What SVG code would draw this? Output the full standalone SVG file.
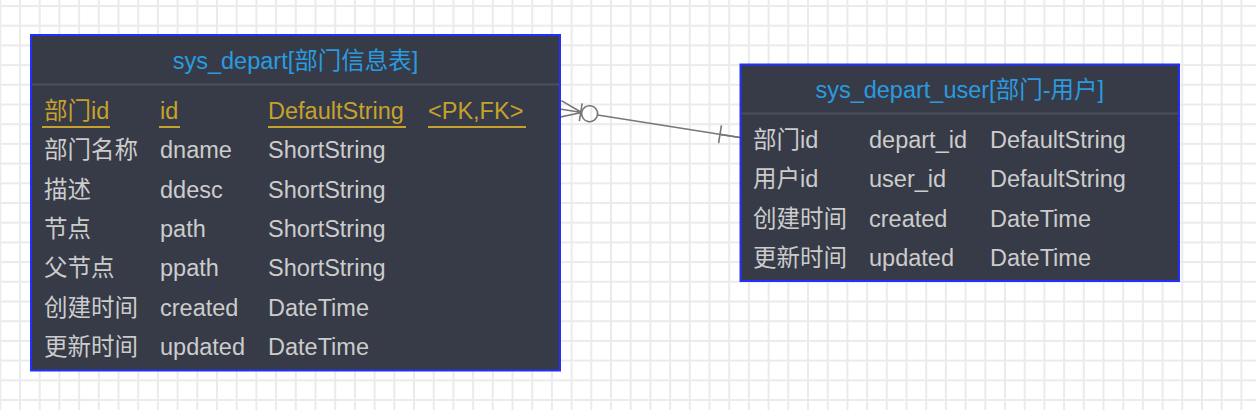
<svg xmlns="http://www.w3.org/2000/svg" width="1256" height="410" viewBox="0 0 1256 410">
<style>
  .box{fill:#363b47;stroke:#2230ff;stroke-width:2}
  .sep{stroke:#4b505b;stroke-width:2}
  .title{font-family:"Liberation Sans","Noto Sans CJK SC",sans-serif;font-size:23.5px;fill:#2a9be0;text-anchor:middle}
  .t{font-family:"Liberation Sans","Noto Sans CJK SC",sans-serif;font-size:23.5px;fill:#cccccc}
  .pk{fill:#c6a22c}
  .ul{stroke:#c6a22c;stroke-width:2}
  .conn{fill:none;stroke:#777;stroke-width:1.6}
</style>
<defs>
  <pattern id="grid" patternUnits="userSpaceOnUse" x="-9.55" y="-3.85" width="19.7" height="19.7">
    <path d="M9.85 0V19.7M0 9.85H19.7" stroke="#ebebeb" stroke-width="2" fill="none"/>
  </pattern>
</defs>
<rect width="1256" height="410" fill="#fff"/>
<rect width="1256" height="410" fill="url(#grid)"/>

<g id="connectors">
  <g transform="translate(560,109) rotate(9)">
    <path class="conn" d="M0,-8.5L22,0M0,0L22,0M0,8.5L22,0M21,-9V9"/>
    <circle class="conn" cx="30" cy="0" r="8"/>
    <path class="conn" d="M38,0H182.2M162,-9V9"/>
    <path class="conn" stroke-width="2.4" d="M162,0H182.2"/>
  </g>
</g>

<g id="sys_depart">
  <rect class="box" x="31" y="35" width="529" height="335.5"/>
  <line class="sep" x1="32" y1="84.5" x2="559" y2="84.5"/>
  <text class="title" x="295.5" y="69">sys_depart[部门信息表]</text>
  <g class="t pk">
    <text x="44" y="119">部门id</text>
    <text x="160" y="119">id</text>
    <text x="268" y="119">DefaultString</text>
    <text x="428" y="119">&lt;PK,FK&gt;</text>
  </g>
  <path class="ul" d="M42,127H110M159,127H180M268,127H406M428,127H526"/>
  <g class="t">
    <text x="44" y="158.3">部门名称</text><text x="160" y="158.3">dname</text><text x="268" y="158.3">ShortString</text>
    <text x="44" y="197.7">描述</text><text x="160" y="197.7">ddesc</text><text x="268" y="197.7">ShortString</text>
    <text x="44" y="237">节点</text><text x="160" y="237">path</text><text x="268" y="237">ShortString</text>
    <text x="44" y="276.3">父节点</text><text x="160" y="276.3">ppath</text><text x="268" y="276.3">ShortString</text>
    <text x="44" y="315.6">创建时间</text><text x="160" y="315.6">created</text><text x="268" y="315.6">DateTime</text>
    <text x="44" y="355">更新时间</text><text x="160" y="355">updated</text><text x="268" y="355">DateTime</text>
  </g>
</g>

<g id="sys_depart_user">
  <rect class="box" x="740.5" y="64.5" width="438.5" height="216.5"/>
  <line class="sep" x1="741.5" y1="113.5" x2="1178" y2="113.5"/>
  <text class="title" x="959.7" y="98">sys_depart_user[部门-用户]</text>
  <g class="t">
    <text x="753" y="148">部门id</text><text x="869" y="148">depart_id</text><text x="990" y="148">DefaultString</text>
    <text x="753" y="187.3">用户id</text><text x="869" y="187.3">user_id</text><text x="990" y="187.3">DefaultString</text>
    <text x="753" y="226.6">创建时间</text><text x="869" y="226.6">created</text><text x="990" y="226.6">DateTime</text>
    <text x="753" y="266">更新时间</text><text x="869" y="266">updated</text><text x="990" y="266">DateTime</text>
  </g>
</g>
</svg>
